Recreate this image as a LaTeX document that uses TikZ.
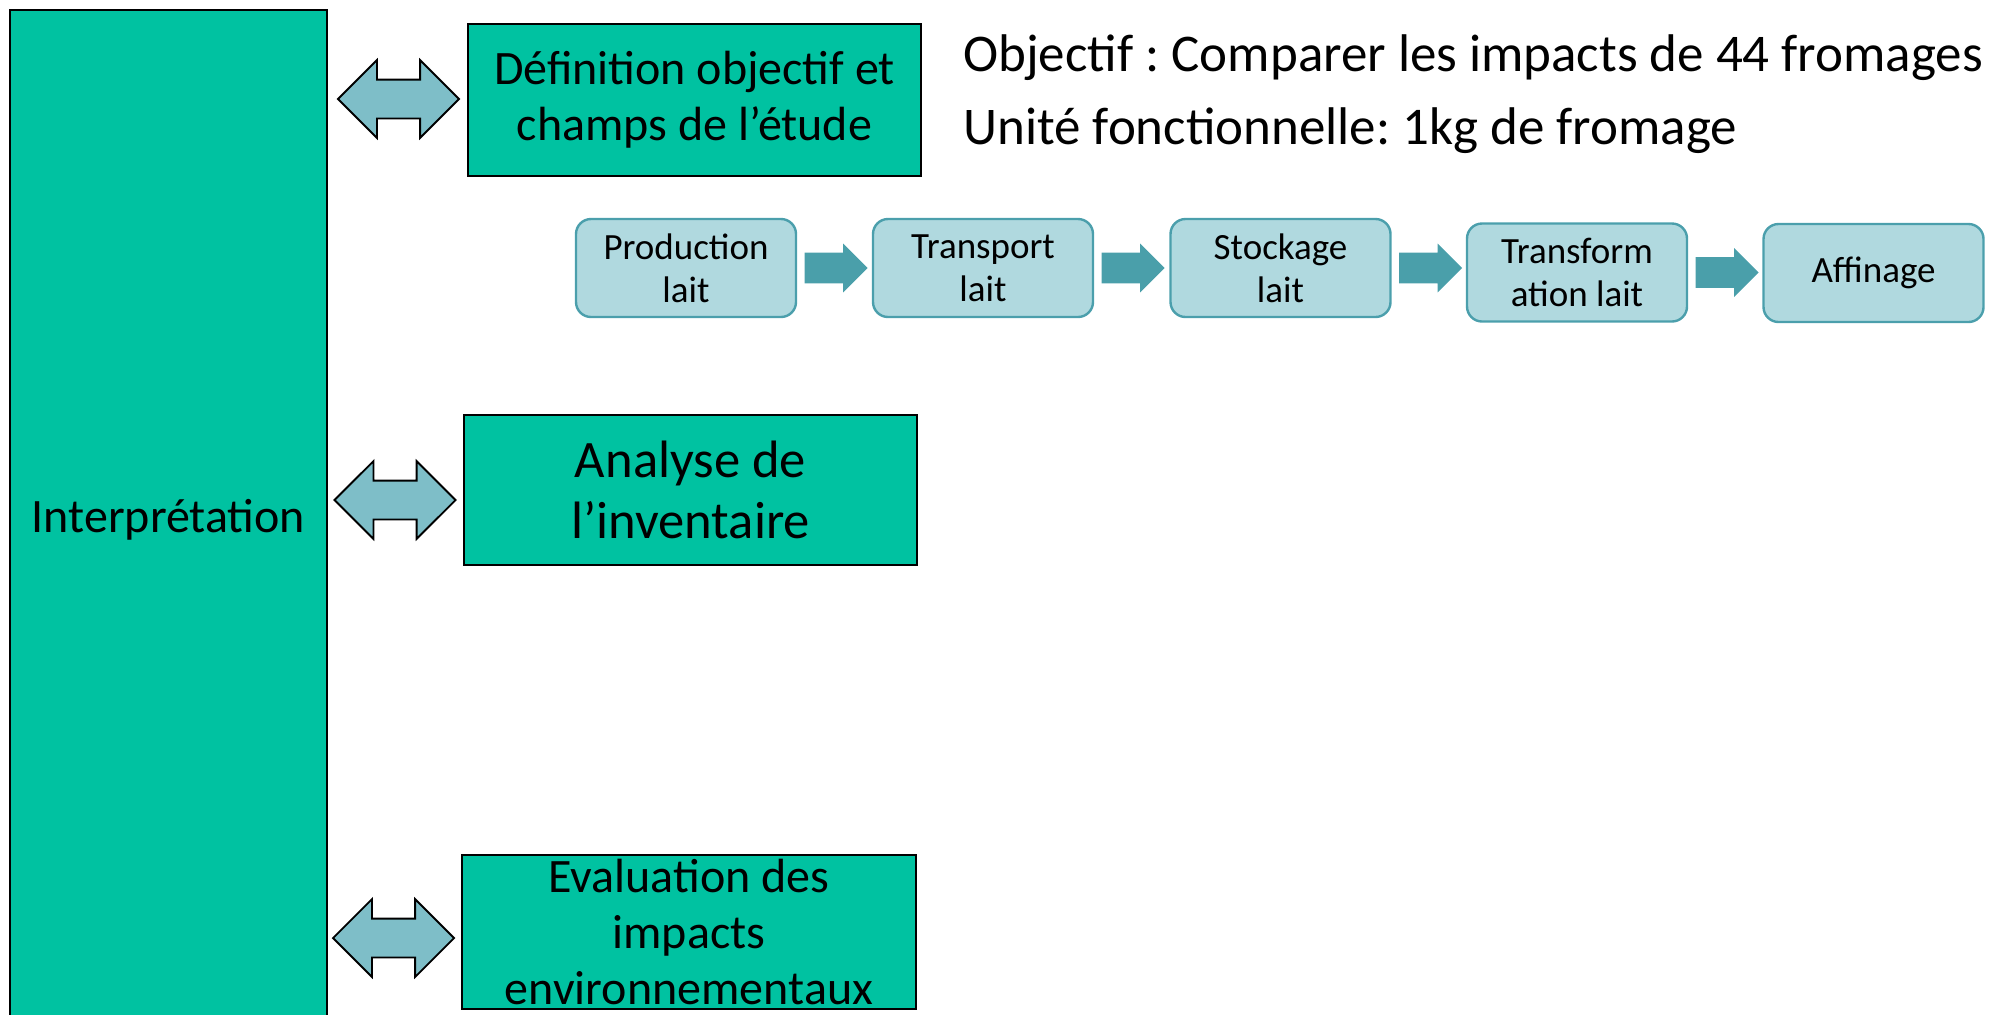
\documentclass[tikz,border=0pt]{standalone}
\usepackage{fontspec}
\setmainfont{Carlito}
\frenchspacing
\usetikzlibrary{shapes.arrows,positioning}

\definecolor{etapevert}{HTML}{00C2A1}
\definecolor{lienbleu}{HTML}{7EBEC8}
\definecolor{chainefond}{HTML}{B0D9DF}
\definecolor{chainebord}{HTML}{4B9FAC}
\definecolor{flechebleu}{HTML}{4A9FAA}

\newcommand{\taille}[1]{\fontsize{#1}{1.16\dimexpr #1pt\relax}\selectfont}

\tikzset{
    etape/.style={draw=black, line width=1.2pt, fill=etapevert,
                  align=center, inner sep=0pt},
    lien/.style={double arrow, draw=black, line width=0.9pt, fill=lienbleu,
                 minimum height=60.5pt, minimum width=38pt,
                 double arrow head extend=9.75pt,
                 inner xsep=0pt, inner ysep=9.25pt},
    maillon/.style={draw=chainebord, line width=1.2pt, fill=chainefond,
                    rounded corners=7.5pt, align=center, inner sep=0pt,
                    minimum width=110pt, minimum height=49pt,
                    font=\taille{18.5}},
    fleche/.style={single arrow, fill=flechebleu, draw=none,
                   minimum height=31.5pt, minimum width=24pt,
                   single arrow head extend=4.5pt,
                   inner xsep=0pt, inner ysep=7.5pt}
}

\begin{document}
\begin{tikzpicture}[x=0.5pt,y=-0.5pt]
    \useasboundingbox (0,0) rectangle (1995,1014);

    \node[etape, minimum width=158.5pt, minimum height=510pt,
          font=\taille{24}] (interp) at (168.5,520) {Interprétation};

    \node[etape, minimum width=226.5pt, minimum height=76pt,
          font=\taille{24}] (objectif) at (694.5,100)
          {Définition objectif et\\champs de l’étude};
    \node[etape, minimum width=226.5pt, minimum height=75pt,
          font=\taille{26.3}] (inventaire) at (690.5,490)
          {Analyse de\\l’inventaire};
    \node[etape, minimum width=227pt, minimum height=77pt] (impacts) at (689,932) {};
    \node[inner sep=0pt, align=center, font=\taille{24}] (impacts-texte) at (impacts)
          {Evaluation des\\impacts\\environnementaux};

    \node[lien] (lien1) at (398.5,99) {};
    \node[lien] (lien2) at (395,500) {};
    \node[lien] (lien3) at (393.5,938) {};

    \node[anchor=west, inner sep=0pt, font=\taille{26.5}] (but) at (963,58)
          {Objectif : Comparer les impacts de 44 fromages};
    \node[anchor=west, inner sep=0pt, font=\taille{26.5}] (unite) at (963,131)
          {Unité fonctionnelle: 1kg de fromage};

    \node[maillon] (production) at (686,268) {Production\\lait};
    \node[maillon] (transport) at (983,268) {Transport\\lait};
    \node[maillon] (stockage) at (1280.5,268) {Stockage\\lait};
    \node[maillon] (transformation) at (1577,272.5) {Transform\\ation lait};
    \node[maillon] (affinage) at (1873.5,273) {Affinage};

    \node[fleche, right=3.5pt of production.east, anchor=tail] (f1) {};
    \node[fleche, right=3.5pt of transport.east, anchor=tail] (f2) {};
    \node[fleche, right=3.5pt of stockage.east, anchor=tail] (f3) {};
    \node[fleche, right=3.5pt of transformation.east, anchor=tail] (f4) {};
\end{tikzpicture}
\end{document}
